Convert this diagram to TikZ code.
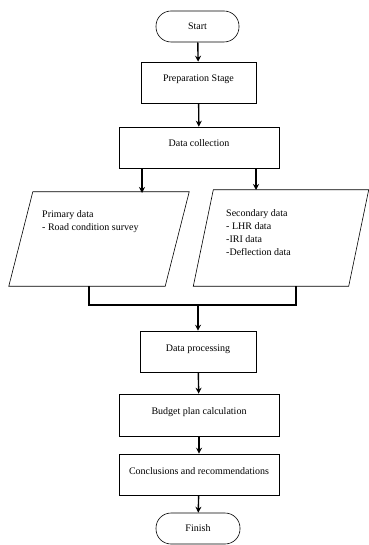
\documentclass[tikz,border=0pt]{standalone}
\usepackage{fontspec}
\setmainfont{Liberation Serif}
\usetikzlibrary{arrows.meta}
\tikzset{
  box/.style={draw,line width=0.6pt,inner xsep=0pt,inner ysep=0pt,
    text height=20pt,text depth=21pt,font=\fontsize{10}{13}\selectfont},
  term/.style={draw,line width=0.6pt,rounded corners=15pt,
    minimum width=83pt,minimum height=31pt,font=\fontsize{10}{13}\selectfont},
  arr/.style={line width=1.4pt,-{Stealth[length=6pt,width=6pt,inset=2pt]}},
  link/.style={line width=1.1pt}
}
\begin{document}
\begin{tikzpicture}[x=1pt,y=-1pt]
\useasboundingbox (0,0) rectangle (368,545);
\node[term] (start) at (197.5,26.5) {Start};
\node[box,minimum width=115pt] (prep) at (198.5,82.5) {Preparation Stage};
\node[box,minimum width=160pt] (dc) at (199,147.5) {Data collection};
% data boxes, drawn as parallelograms
\node[minimum width=156pt,minimum height=94pt,inner sep=0pt] (prim) at (99,239) {};
\node[minimum width=155pt,minimum height=96pt,inner sep=0pt] (sec) at (281,238) {};
\draw[line width=0.6pt] ([xshift=12pt]prim.north west) -- ([xshift=12pt]prim.north east)
  -- ([xshift=-12pt]prim.south east) -- ([xshift=-12pt]prim.south west) -- cycle;
\draw[line width=0.6pt] ([xshift=10pt]sec.north west) -- ([xshift=10pt]sec.north east)
  -- ([xshift=-10pt]sec.south east) -- ([xshift=-10pt]sec.south west) -- cycle;
\node[anchor=north west,align=left,inner sep=0pt,font=\fontsize{10}{13}\selectfont]
  (primtxt) at (42,210) {Primary data\\- Road condition survey};
\node[anchor=north west,align=left,inner sep=0pt,font=\fontsize{10}{13}\selectfont]
  (sectxt) at (226,209) {Secondary data\\- LHR data\\-IRI data\\-Deflection data};
\node[box,minimum width=116pt] (proc) at (198,351.5) {Data processing};
\node[box,minimum width=160pt,text depth=22pt] (budget) at (199,415) {Budget plan calculation};
\node[box,minimum width=160pt] (concl) at (199,474.5) {Conclusions and recommendations};
\node[term,minimum width=84pt] (finish) at (198,528.5) {Finish};
% connectors
\coordinate (pin) at (142,193);
\coordinate (sin) at (256,190);
\coordinate (pout) at (89,286);
\coordinate (sout) at (296,286);
\coordinate (mrg) at (198,305);
\draw[arr] (start) -- (prep);
\draw[arr] (prep) -- (dc);
\draw[arr] (dc.south -| pin) -- (pin);
\draw[arr] (dc.south -| sin) -- (sin);
\draw[link] (prim.south -| pout) |- (mrg) -| (sec.south -| sout);
\draw[arr] (mrg) -- (proc);
\draw[arr] (proc) -- (budget);
\draw[arr] (budget) -- (concl);
\draw[arr] (concl) -- (finish);
\end{tikzpicture}
\end{document}
